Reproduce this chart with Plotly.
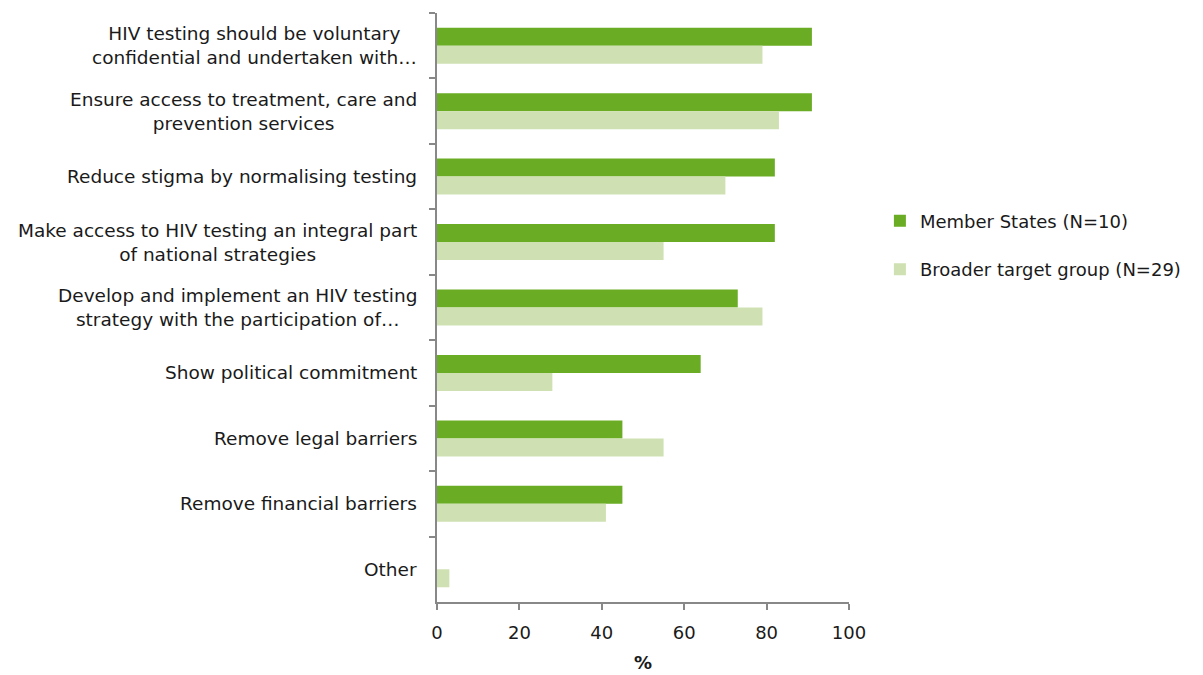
import plotly.graph_objects as go

categories = [
    "HIV testing should be voluntary<br>confidential and undertaken with…",
    "Ensure access to treatment, care and<br>prevention services",
    "Reduce stigma by normalising testing",
    "Make access to HIV testing an integral part<br>of national strategies",
    "Develop and implement an HIV testing<br>strategy with the participation of…",
    "Show political commitment",
    "Remove legal barriers",
    "Remove financial barriers",
    "Other",
]
member_states = [91, 91, 82, 82, 73, 64, 45, 45, 0]
broader_group = [79, 83, 70, 55, 79, 28, 55, 41, 3]
x_ticks = [0, 20, 40, 60, 80, 100]

FONT = "DejaVu Sans"
AXIS = "#888888"
TEXT = "#1a1a1a"

fig = go.Figure()
fig.add_trace(go.Bar(y=categories, x=member_states, orientation="h",
                     name="Member States (N=10)", marker_color="#6AAD24",
                     marker_line_width=0, legendgroup="a"))
fig.add_trace(go.Bar(y=categories, x=broader_group, orientation="h",
                     name="Broader target group (N=29)", marker_color="#CFE1B2",
                     marker_line_width=0, legendgroup="b"))

for cat in categories:
    fig.add_annotation(x=0, xref="paper", xanchor="right", xshift=-18,
                       y=cat, yref="y", yanchor="middle",
                       text=cat, showarrow=False, align="center",
                       font=dict(family=FONT, size=18.5, color=TEXT))

fig.update_layout(
    width=1203, height=675,
    margin=dict(l=437, r=354, t=13, b=73, autoexpand=False),
    paper_bgcolor="white", plot_bgcolor="white",
    barmode="group", bargap=0.45, bargroupgap=0,
    font=dict(family=FONT, size=17, color=TEXT),
    legend=dict(x=1.075, y=0.606, xanchor="left", yanchor="middle",
                font=dict(size=18), tracegroupgap=22, itemsizing="constant",
                traceorder="grouped"),
    xaxis=dict(range=[0, 100], tickvals=x_ticks, showgrid=False, zeroline=False,
               showline=True, linecolor=AXIS, linewidth=1.5, automargin=False,
               ticks="outside", ticklen=6, tickcolor=AXIS, tickwidth=1.5,
               tickfont=dict(size=18), ticklabelstandoff=8,
               title=dict(text="<b>%</b>", font=dict(size=18), standoff=14)),
    yaxis=dict(autorange="reversed", showgrid=False, showline=True,
               linecolor=AXIS, linewidth=1.5, ticks="outside", ticklen=6,
               tickcolor=AXIS, tickwidth=1.5, tickson="boundaries",
               showticklabels=False, automargin=False),
)

fig.write_html("out.html")
